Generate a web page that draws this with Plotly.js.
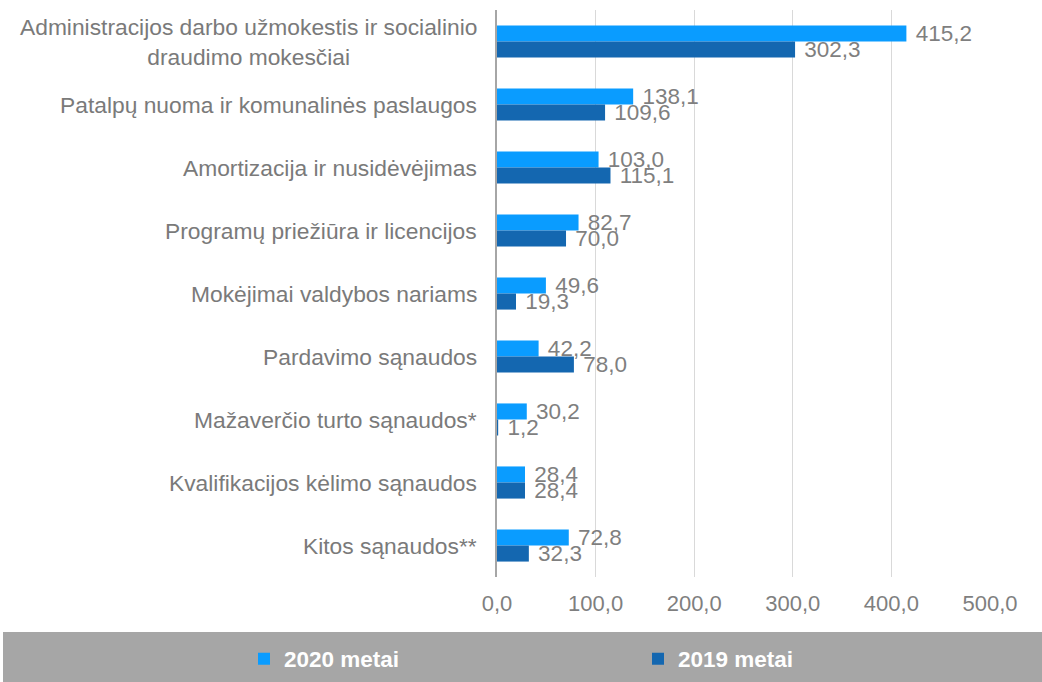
<!DOCTYPE html>
<html>
<head>
<meta charset="utf-8">
<script src="https://cdn.plot.ly/plotly-3.0.1.min.js"></script>
<style>html,body{margin:0;padding:0;background:#fff;}#chart{width:1042px;height:682px;}</style>
</head>
<body>
<div id="chart"></div>
<script>
const categories = [
  "Administracijos darbo užmokestis ir socialinio<br>draudimo mokesčiai",
  "Patalpų nuoma ir komunalinės paslaugos",
  "Amortizacija ir nusidėvėjimas",
  "Programų priežiūra ir licencijos",
  "Mokėjimai valdybos nariams",
  "Pardavimo sąnaudos",
  "Mažaverčio turto sąnaudos*",
  "Kvalifikacijos kėlimo sąnaudos",
  "Kitos sąnaudos**"
];
const values2020 = [415.2, 138.1, 103.0, 82.7, 49.6, 42.2, 30.2, 28.4, 72.8];
const values2019 = [302.3, 109.6, 115.1, 70.0, 19.3, 78.0, 1.2, 28.4, 32.3];
const seriesNames = ["2020 metai", "2019 metai"];
const tickValues = [0, 100, 200, 300, 400, 500];

const FONT = "Liberation Sans, Arial, sans-serif";
const labelFont = {family: FONT, size: 22.5, color: "#7F7F7F"};

const traces = [
  {type: "bar", orientation: "h", name: seriesNames[0], y: categories, x: values2020,
   marker: {color: "#0A9CFF"}, texttemplate: " %{x:.1f}", textposition: "outside",
   textfont: labelFont, constraintext: "none", cliponaxis: false, hoverinfo: "x+y"},
  {type: "bar", orientation: "h", name: seriesNames[1], y: categories, x: values2019,
   marker: {color: "#1467B0"}, texttemplate: " %{x:.1f}", textposition: "outside",
   textfont: labelFont, constraintext: "none", cliponaxis: false, hoverinfo: "x+y"}
];

const annotations = categories.map(c => ({
  xref: "paper", yref: "y", x: 0, y: c, xanchor: "right", yanchor: "middle",
  xshift: -18, text: c, showarrow: false, align: "center",
  font: {family: FONT, size: 22.8, color: "#7A7A7A"}
}));

const layout = {
  width: 1042, height: 682,
  margin: {l: 497, r: 52, t: 10, b: 105, pad: 0, autoexpand: false},
  paper_bgcolor: "#FFFFFF", plot_bgcolor: "#FFFFFF",
  separators: ", ",
  barmode: "group", bargap: 0.49, bargroupgap: 0,
  font: {family: FONT, color: "#7F7F7F"},
  xaxis: {range: [0, 500], tickvals: tickValues, tickformat: ".1f",
          showgrid: true, gridcolor: "#D9D9D9", gridwidth: 1.3, zeroline: false,
          showline: false, ticks: "", ticklabelstandoff: 11,
          tickfont: {family: FONT, size: 22, color: "#7F7F7F"}},
  yaxis: {type: "category", autorange: "reversed", showticklabels: false,
          showline: true, linecolor: "#A6A6A6", linewidth: 2, ticks: "", showgrid: false},
  annotations: annotations,
  shapes: [{type: "rect", xref: "paper", yref: "paper",
            x0: (3 - 497) / 493, x1: (1042 - 497) / 493,
            y0: (577 - 682) / 567, y1: (577 - 632) / 567,
            fillcolor: "#A6A6A6", line: {width: 0}, layer: "below"}],
  showlegend: true,
  legend: {orientation: "h", x: (244 - 497) / 493, xanchor: "left",
           y: (577 - 659) / 567, yanchor: "middle",
           bgcolor: "rgba(0,0,0,0)", itemwidth: 30, entrywidth: 349, entrywidthmode: "pixels",
           font: {family: FONT, size: 22.5, color: "#FFFFFF", weight: "bold"},
           itemclick: false, itemdoubleclick: false}
};

Plotly.newPlot("chart", traces, layout, {displayModeBar: false, staticPlot: true});
</script>
</body>
</html>
